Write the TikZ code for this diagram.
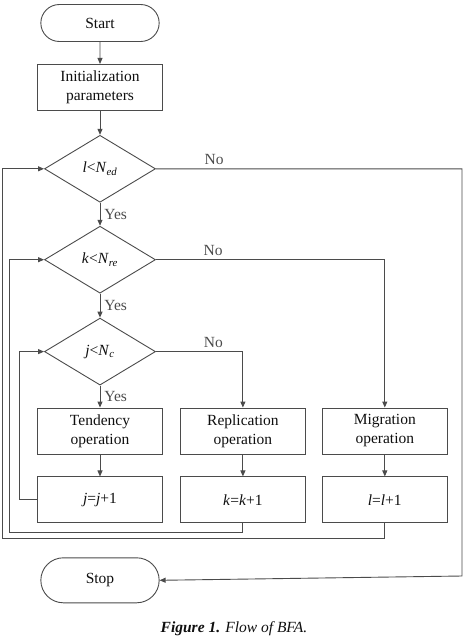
\documentclass[tikz,border=0pt]{standalone}
\usepackage{fontspec}
\setmainfont{Liberation Serif}
\usepackage{xcolor}
\usetikzlibrary{shapes.geometric, shapes.misc, arrows.meta, positioning}
\definecolor{linegray}{RGB}{75, 75, 75}
\definecolor{textgray}{RGB}{15, 15, 15}

\begin{document}
\begin{tikzpicture}[
    x=1pt, y=-1pt,
    font=\fontsize{15.5}{19}\selectfont,
    text=textgray,
    terminal/.style={draw=linegray, line width=0.9pt, rounded rectangle, minimum width=125pt, align=center},
    process/.style={draw=linegray, line width=0.9pt, minimum width=125pt, minimum height=46pt, align=center},
    decision/.style={draw=linegray, line width=0.9pt, diamond, minimum width=111pt, minimum height=67pt, inner sep=0pt},
    arrow/.style={-{Triangle[length=6pt,width=5pt]}, line width=0.9pt, linegray}
]
    \useasboundingbox (0,0) rectangle (468,640);

    \node[terminal, minimum height=37pt] (start) at (100,23) {Start};
    \node[process, below=22pt of start] (init) {Initialization\\parameters};
    \node[decision, below=24pt of init] (dl) {\textit{l}<\textit{N}\textsubscript{\textit{ed}}};
    \node[decision, below=23pt of dl] (dk) {\textit{k}<\textit{N}\textsubscript{\textit{re}}};
    \node[decision, below=24pt of dk] (dj) {\textit{j}<\textit{N}\textsubscript{\textit{c}}};
    \node[process, below=22pt of dj] (tend) {Tendency\\operation};
    \node[process, right=17pt of tend] (repl) {Replication\\operation};
    \node[process, right=16pt of repl] (migr) {Migration\\operation};
    \node[process, below=22pt of tend] (jinc) {\textit{j}=\textit{j}+1};
    \node[process, below=22pt of repl] (kinc) {\textit{k}=\textit{k}+1};
    \node[process, below=22pt of migr] (linc) {\textit{l}=\textit{l}+1};
    \node[terminal, minimum height=45pt, below=34pt of jinc] (stop) {Stop};
    \node (caption) at (234,629) {\textbf{\textit{Figure 1.}} \textit{Flow of BFA.}};

    \coordinate (nocorner) at (462,576);
    \coordinate (kloop) at (9,532);
    \coordinate (lloop) at (2,538);

    \draw[arrow] (start) -- (init);
    \draw[arrow] (init) -- (dl);
    \draw[arrow] (dl) -- node[right, inner sep=4pt]{Yes} (dk);
    \draw[arrow] (dk) -- node[right, inner sep=4pt]{Yes} (dj);
    \draw[arrow] (dj) -- node[right, inner sep=4pt]{Yes} (tend);
    \draw[arrow] (tend) -- (jinc);
    \draw[arrow] (repl) -- (kinc);
    \draw[arrow] (migr) -- (linc);

    \draw[arrow] (dl.east) -- node[above, pos=0.19]{No} (dl.east -| nocorner) -- (nocorner) -- (stop.east);
    \draw[arrow] (dk.east) -- node[above, pos=0.25]{No} (dk.east -| migr.north) -- (migr.north);
    \draw[arrow] (dj.east) -- node[above, pos=0.66]{No} (dj.east -| repl.north) -- (repl.north);

    \draw[arrow] (jinc.west) -- ++(-18,0) |- (dj.west);
    \draw[arrow] (kinc.south) |- (kloop) |- (dk.west);
    \draw[arrow] (linc.south) |- (lloop) |- (dl.west);
\end{tikzpicture}
\end{document}
